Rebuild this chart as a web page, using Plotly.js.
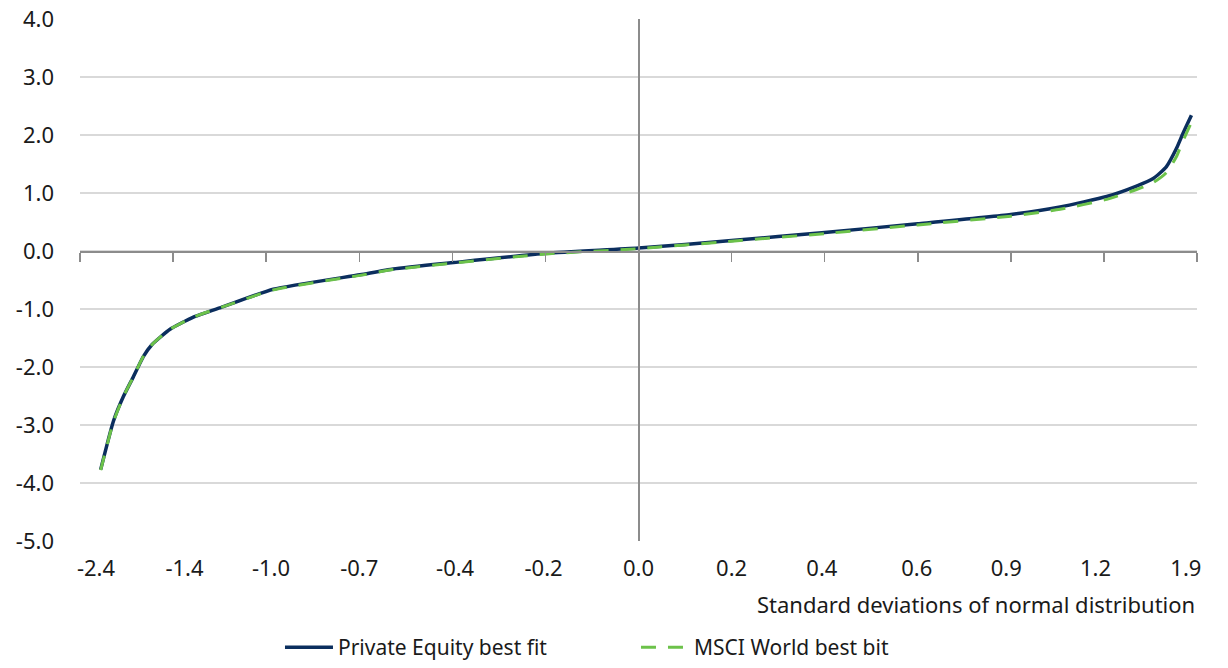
<!DOCTYPE html>
<html>
<head>
<meta charset="utf-8">
<script src="https://cdn.plot.ly/plotly-3.0.1.min.js"></script>
<style>html,body{margin:0;padding:0;background:#fff;}#chart{width:1228px;height:668px;}</style>
</head>
<body>
<div id="chart"></div>
<script>
// Tick labels of the categorical x axis (standard deviations of normal distribution)
const tickLabels = ['-2.4','-1.4','-1.0','-0.7','-0.4','-0.2','0.0','0.2','0.4','0.6','0.9','1.2','1.9'];
// label centres (category units) and the tick-mark boundaries
const labelPositions = [0.172,1.123,2.052,3.0,4.03,4.98,6.0,7.0,7.97,8.99,9.95,10.91,11.88];
const tickPositions = [0,1,2,3,4,5,6,7,8,9,10,11,12];

// Position along the category axis (in tick-label units) for each point
const pePosition = [0.222,0.358,0.466,0.573,0.680,0.770,0.967,1.218,1.540,2.077,3.008,3.366,4.011,5.014,6.0,7.0,8.0,9.0,10.0,10.53,11.03,11.35,11.53,11.67,11.78,11.85,11.94];
const peValues   = [-3.77,-2.94,-2.51,-2.17,-1.82,-1.62,-1.35,-1.14,-0.96,-0.66,-0.41,-0.31,-0.20,-0.04,0.05,0.18,0.32,0.47,0.63,0.76,0.94,1.12,1.25,1.45,1.77,2.03,2.34];

const msciPosition = [0.222,0.358,0.466,0.573,0.680,0.770,0.967,1.218,1.540,2.077,3.008,3.366,4.011,5.014,6.0,7.0,8.0,9.0,10.0,10.53,11.03,11.35,11.53,11.67,11.78,11.85,11.96];
const msciValues   = [-3.78,-2.95,-2.51,-2.17,-1.82,-1.62,-1.35,-1.14,-0.96,-0.67,-0.42,-0.32,-0.21,-0.05,0.04,0.17,0.30,0.45,0.60,0.72,0.89,1.06,1.18,1.35,1.63,1.90,2.29];

const yTicks = [-5,-4,-3,-2,-1,0,1,2,3,4];
const yTickText = ['-5.0','-4.0','-3.0','-2.0','-1.0','0.0','1.0','2.0','3.0','4.0'];

const FONT = 'Noto Sans, Open Sans, sans-serif';
const AXIS_GREY = '#8c8c8c';
const TEXT = '#1a1a1a';

const traces = [
  {
    x: pePosition, y: peValues, type: 'scatter', mode: 'lines',
    name: 'Private Equity best fit',
    line: {color: '#0b2e5e', width: 3.5, shape: 'spline', smoothing: 0.5}
  },
  {
    x: msciPosition, y: msciValues, type: 'scatter', mode: 'lines',
    name: 'MSCI World best bit',
    line: {color: '#6cc24a', width: 3, dash: '15px,12px', shape: 'spline', smoothing: 0.5}
  },
  // invisible helper traces so the axis lines at x=0 and y=0 are drawn
  {x: [0, 12], y: [0, 0], xaxis: 'x2', yaxis: 'y', mode: 'lines', line: {width: 0}, showlegend: false, hoverinfo: 'skip'},
  {x: [6, 6], y: [-5, 4], xaxis: 'x', yaxis: 'y2', mode: 'lines', line: {width: 0}, showlegend: false, hoverinfo: 'skip'}
];

const layout = {
  width: 1228, height: 668,
  margin: {l: 80, r: 31, t: 19, b: 127},
  paper_bgcolor: '#ffffff', plot_bgcolor: '#ffffff',
  font: {family: FONT, size: 22, color: TEXT},
  showlegend: true,
  legend: {
    orientation: 'h', x: 0.228, xanchor: 'left', xref: 'container',
    y: 0, yref: 'container', yanchor: 'bottom',
    font: {family: FONT, size: 21, color: TEXT},
    itemwidth: 48, entrywidth: 293, entrywidthmode: 'pixels',
    traceorder: 'normal'
  },
  xaxis: {
    range: [0, 12], tickvals: labelPositions, ticktext: tickLabels,
    showgrid: false, zeroline: false, showline: false, ticks: '',
    tickangle: 0, automargin: false,
    ticklabelstandoff: 12,
    tickfont: {family: FONT, size: 22, color: TEXT}
  },
  yaxis: {
    range: [-5, 4], tickvals: yTicks, ticktext: yTickText,
    showgrid: true, gridcolor: '#d9d9d9', gridwidth: 1.5,
    zeroline: false, showline: false, ticks: '', automargin: false,
    ticklabelstandoff: 25,
    tickfont: {family: FONT, size: 22, color: TEXT}
  },
  xaxis2: {
    overlaying: 'x', anchor: 'free', position: 5/9, side: 'bottom',
    range: [0, 12], tickvals: tickPositions,
    showgrid: false, zeroline: false, showline: true, linecolor: AXIS_GREY, linewidth: 1.5,
    ticks: 'outside', ticklen: 9, tickwidth: 1.5, tickcolor: AXIS_GREY,
    showticklabels: false
  },
  yaxis2: {
    overlaying: 'y', anchor: 'free', position: 0.5, side: 'left',
    range: [-5, 4],
    showgrid: false, zeroline: false, showline: true, linecolor: AXIS_GREY, linewidth: 2,
    ticks: '', showticklabels: false
  },
  annotations: [
    {
      text: 'Standard deviations of normal distribution',
      xref: 'paper', yref: 'paper', x: 1, xanchor: 'right',
      y: -0.12, yanchor: 'middle', showarrow: false,
      font: {family: FONT, size: 22, color: TEXT}
    }
  ]
};

Plotly.newPlot('chart', traces, layout, {displayModeBar: false, staticPlot: true});
</script>
</body>
</html>
